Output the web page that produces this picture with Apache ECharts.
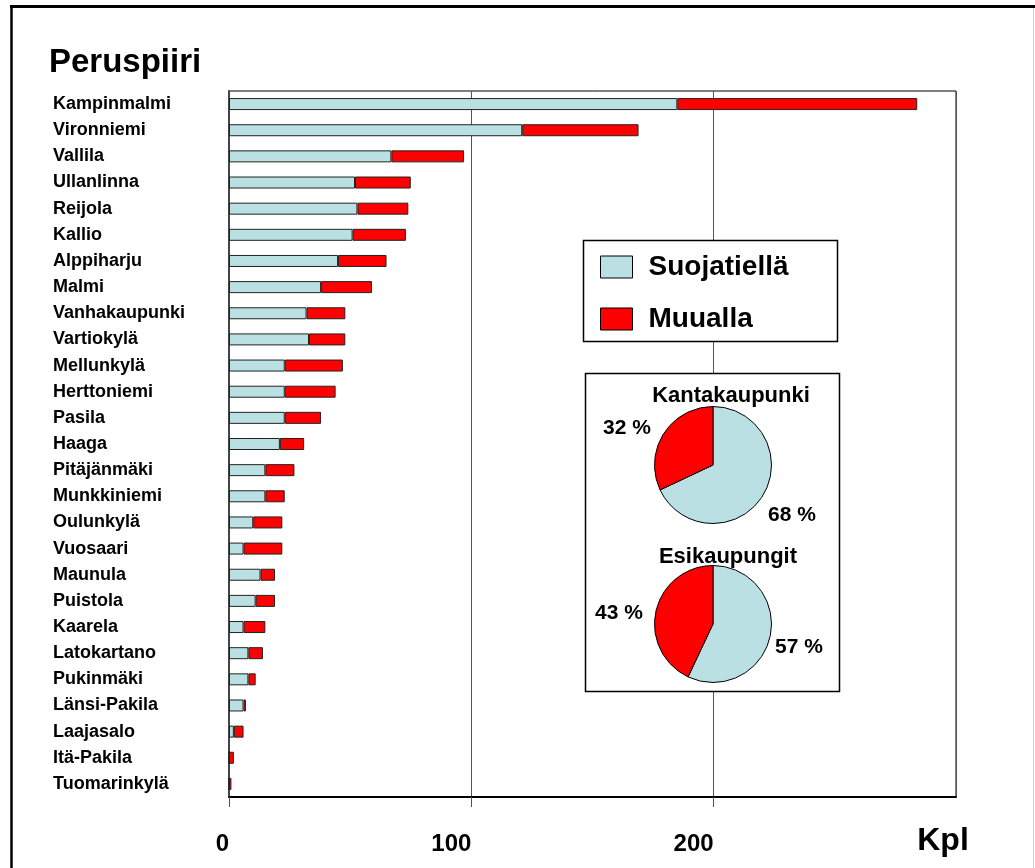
<!DOCTYPE html>
<html>
<head>
<meta charset="utf-8">
<title>Peruspiiri</title>
<script src="https://cdn.jsdelivr.net/npm/echarts@6/dist/echarts.min.js"></script>
<style>
  html, body { margin: 0; padding: 0; background: #ffffff; }
  #chart { width: 1035px; height: 868px; }
</style>
</head>
<body>
<div id="chart"></div>
<script>
// Districts, top to bottom
const categories = [
  'Kampinmalmi', 'Vironniemi', 'Vallila', 'Ullanlinna', 'Reijola', 'Kallio',
  'Alppiharju', 'Malmi', 'Vanhakaupunki', 'Vartiokylä', 'Mellunkylä',
  'Herttoniemi', 'Pasila', 'Haaga', 'Pitäjänmäki', 'Munkkiniemi', 'Oulunkylä',
  'Vuosaari', 'Maunula', 'Puistola', 'Kaarela', 'Latokartano', 'Pukinmäki',
  'Länsi-Pakila', 'Laajasalo', 'Itä-Pakila', 'Tuomarinkylä'
];

// Counts (kpl) per district
const suojatiella = [185, 121, 67, 52, 53, 51, 45, 38, 32, 33, 23, 23, 23, 21, 15, 15, 10, 6, 13, 11, 6, 8, 8, 6, 2, 0, 0];
const muualla     = [99, 48, 30, 23, 21, 22, 20, 21, 16, 15, 24, 21, 15, 10, 12, 8, 12, 16, 6, 8, 9, 6, 3, 1, 4, 2, 1];

const seriesNames = ['Suojatiellä', 'Muualla'];

// Shares (%) for the two area groups
const pieTitles = ['Kantakaupunki', 'Esikaupungit'];
const kantakaupunki = [68, 32];
const esikaupungit = [57, 43];

// X axis scale
const xTicks = [0, 100, 200, 300];
const axisUnit = 'Kpl';

const FONT = "'Liberation Sans', Arial, sans-serif";
const LIGHT = '#BAE0E3';
const RED = '#FF0000';

// Pie placement and label offsets (relative to each pie's centre)
const pieCenters = [[713, 465], [713, 624]];
const pieLabelOffsets = [
  [[79, 50], [-86, -37]],
  [[86, 23], [-94, -11]]
];

function pieSeries(idx, values) {
  return {
    type: 'pie',
    name: pieTitles[idx],
    center: pieCenters[idx],
    radius: 58.5,
    startAngle: 90,
    clockwise: true,
    z: 10,
    silent: true,
    avoidLabelOverlap: false,
    itemStyle: { borderColor: '#000', borderWidth: 1 },
    label: {
      show: true,
      position: 'outside',
      formatter: '{c} %',
      fontFamily: FONT,
      fontSize: 21,
      fontWeight: 'bold',
      color: '#000'
    },
    labelLine: { show: false },
    labelLayout: function (p) {
      const off = pieLabelOffsets[idx][p.dataIndex];
      const c = pieCenters[idx];
      return { x: c[0] + off[0], y: c[1] + off[1], align: 'center', verticalAlign: 'middle' };
    },
    data: values.map((v, i) => ({
      value: v,
      name: seriesNames[i],
      itemStyle: { color: i === 0 ? LIGHT : RED }
    }))
  };
}

const chart = echarts.init(document.getElementById('chart'), null, { renderer: 'canvas' });

chart.setOption({
  animation: false,
  backgroundColor: '#ffffff',
  textStyle: { fontFamily: FONT },
  grid: {
    left: 229, top: 91, width: 727, height: 706,
    show: true, borderColor: '#000', borderWidth: 1, backgroundColor: 'transparent'
  },
  legend: {
    orient: 'vertical',
    left: 600, top: 253,
    padding: 0,
    z: 20,
    icon: 'rect',
    itemWidth: 32, itemHeight: 22, itemGap: 24,
    selectedMode: false,
    data: seriesNames.map((n, i) => ({
      name: n,
      itemStyle: { color: i === 0 ? LIGHT : RED, borderColor: '#000', borderWidth: 1 }
    })),
    textStyle: {
      fontFamily: FONT, fontSize: 28, fontWeight: 'bold', color: '#000',
      padding: [0, 0, 0, 11]
    }
  },
  xAxis: {
    type: 'value',
    min: xTicks[0], max: xTicks[xTicks.length - 1], interval: xTicks[1] - xTicks[0],
    axisLine: { show: true, lineStyle: { color: '#000', width: 2 } },
    axisTick: { show: true, length: 10, lineStyle: { color: '#555', width: 1 } },
    splitLine: { show: true, lineStyle: { color: '#555', width: 1 } },
    axisLabel: {
      showMaxLabel: false,
      align: 'right',
      margin: 35,
      fontFamily: FONT, fontSize: 24, fontWeight: 'bold', color: '#000'
    }
  },
  yAxis: {
    type: 'category',
    inverse: true,
    data: categories,
    axisLine: { show: true, lineStyle: { color: '#444', width: 2 } },
    axisTick: { show: false },
    axisLabel: {
      align: 'left',
      margin: 176,
      fontFamily: FONT, fontSize: 18, fontWeight: 'bold', color: '#000'
    }
  },
  series: [
    {
      type: 'bar', name: seriesNames[0], stack: 'kpl', barWidth: 12,
      itemStyle: { color: LIGHT, borderColor: '#222', borderWidth: 1 },
      data: suojatiella
    },
    {
      type: 'bar', name: seriesNames[1], stack: 'kpl', barWidth: 12,
      itemStyle: { color: RED, borderColor: '#222', borderWidth: 1 },
      data: muualla
    },
    pieSeries(0, kantakaupunki),
    pieSeries(1, esikaupungit)
  ],
  graphic: [
    // outer frame
    { type: 'line', z: 30, shape: { x1: 10, y1: 6.5, x2: 1035, y2: 6.5 }, style: { stroke: '#000', lineWidth: 3 } },
    { type: 'line', z: 30, shape: { x1: 11.5, y1: 5, x2: 11.5, y2: 868 }, style: { stroke: '#000', lineWidth: 2.5 } },
    { type: 'line', z: 30, shape: { x1: 1033.5, y1: 8, x2: 1033.5, y2: 868 }, style: { stroke: '#cccccc', lineWidth: 1 } },
    // legend panel
    { type: 'rect', z: 3, shape: { x: 583.5, y: 240.5, width: 254, height: 101 },
      style: { fill: '#fff', stroke: '#000', lineWidth: 1.5 } },
    // pie panel
    { type: 'rect', z: 3, shape: { x: 585.5, y: 373.5, width: 254, height: 318 },
      style: { fill: '#fff', stroke: '#000', lineWidth: 1.5 } },
    // titles
    { type: 'text', z: 30, style: { x: 49, y: 63, text: 'Peruspiiri', font: "bold 33px " + FONT,
      fill: '#000', textAlign: 'left', textVerticalAlign: 'middle' } },
    { type: 'text', z: 30, style: { x: 943, y: 841, text: axisUnit, font: "bold 32px " + FONT,
      fill: '#000', textAlign: 'center', textVerticalAlign: 'middle' } },
    { type: 'text', z: 30, style: { x: 731, y: 396, text: pieTitles[0], font: "bold 22px " + FONT,
      fill: '#000', textAlign: 'center', textVerticalAlign: 'middle' } },
    { type: 'text', z: 30, style: { x: 728, y: 557, text: pieTitles[1], font: "bold 22px " + FONT,
      fill: '#000', textAlign: 'center', textVerticalAlign: 'middle' } }
  ]
});
</script>
</body>
</html>
